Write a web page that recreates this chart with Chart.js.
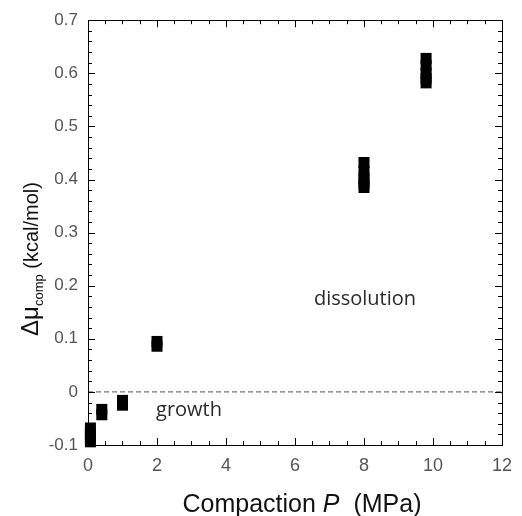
<!DOCTYPE html>
<html>
<head>
<meta charset="utf-8">
<script src="https://cdn.jsdelivr.net/npm/chart.js@4.4.1/dist/chart.umd.min.js"></script>
<style>
  body { margin: 0; background: #fff; }
  canvas { display: block; }
</style>
</head>
<body>
<canvas id="chart" width="522" height="516"></canvas>
<script>
// compaction pressure (MPa) and the measured Δμ values at each pressure
const pressures = [0.07, 0.4, 1, 2, 8, 9.8];
const muValues = [
  [-0.094, -0.086, -0.077, -0.068],
  [-0.043, -0.033],
  [-0.025, -0.016],
  [0.086, 0.095],
  [0.385, 0.393, 0.402, 0.415, 0.432],
  [0.582, 0.59, 0.6, 0.615, 0.628]
];
const xTicks = [0, 2, 4, 6, 8, 10, 12];
const yTicks = [-0.1, 0, 0.1, 0.2, 0.3, 0.4, 0.5, 0.6, 0.7];

const points = [];
pressures.forEach((p, i) => {
  muValues[i].forEach(v => points.push({ x: p, y: v }));
});

// frame + inward major/minor ticks on all four sides
const frameTicks = {
  id: 'frameTicks',
  afterDraw(chart) {
    const { ctx, chartArea: a, scales: { x, y } } = chart;
    ctx.save();
    ctx.strokeStyle = '#000';
    ctx.lineWidth = 1;
    ctx.beginPath();
    for (let i = 0; i <= 24; i++) {
      const px = Math.round(x.getPixelForValue(i * 0.5)) + 0.5;
      const len = i % 4 === 0 ? 7 : 4;
      ctx.moveTo(px, a.bottom); ctx.lineTo(px, a.bottom - len);
      ctx.moveTo(px, a.top); ctx.lineTo(px, a.top + len);
    }
    for (let i = 0; i <= 40; i++) {
      const py = Math.round(y.getPixelForValue(-0.1 + i * 0.02)) + 0.5;
      const len = i % 5 === 0 ? 7 : 4;
      ctx.moveTo(a.left, py); ctx.lineTo(a.left + len, py);
      ctx.moveTo(a.right, py); ctx.lineTo(a.right - len, py);
    }
    ctx.stroke();
    ctx.strokeRect(Math.round(a.left) + 0.5, Math.round(a.top) + 0.5,
      Math.round(a.right - a.left), Math.round(a.bottom - a.top));

    // annotations
    ctx.fillStyle = '#2a2a2a';
    ctx.font = '20px "Open Sans"';
    ctx.textAlign = 'center';
    ctx.textBaseline = 'alphabetic';
    ctx.fillText('dissolution', 365, 305);
    ctx.fillText('growth', 189, 416);

    // x title with italic P
    ctx.fillStyle = '#111';
    ctx.textAlign = 'left';
    const f = '25px "Liberation Sans"';
    const fi = 'italic 25px "Liberation Sans"';
    const parts = [['Compaction ', f], ['P', fi], ['  (MPa)', f]];
    let w = 0;
    parts.forEach(([t, ft]) => { ctx.font = ft; w += ctx.measureText(t).width; });
    let cx = 302 - w / 2;
    parts.forEach(([t, ft]) => { ctx.font = ft; ctx.fillText(t, cx, 512); cx += ctx.measureText(t).width; });

    // y title with subscript
    ctx.translate(38, 259);
    ctx.rotate(-Math.PI / 2);
    const yparts = [['Δμ', '24px "Liberation Sans"', 0], ['comp', '13px "Liberation Sans"', 5], [' (kcal/mol)', '20px "Liberation Sans"', 0]];
    w = 0;
    yparts.forEach(([t, ft]) => { ctx.font = ft; w += ctx.measureText(t).width; });
    cx = -w / 2;
    yparts.forEach(([t, ft, dy]) => { ctx.font = ft; ctx.fillText(t, cx, dy); cx += ctx.measureText(t).width; });
    ctx.restore();
  }
};

new Chart(document.getElementById('chart'), {
  type: 'scatter',
  data: {
    datasets: [{
      label: 'zero',
      type: 'line',
      data: [{ x: 0, y: 0 }, { x: 12, y: 0 }],
      borderColor: '#555',
      borderWidth: 1,
      borderDash: [5, 3],
      pointRadius: 0
    }, {
      label: 'Δμ',
      data: points,
      clip: false,
      pointStyle: 'rect',
      pointRadius: 7.8,
      backgroundColor: '#000',
      borderWidth: 0
    }]
  },
  options: {
    responsive: false,
    animation: false,
    layout: { padding: { top: 20, right: 11, left: 0, bottom: 0 } },
    plugins: { legend: { display: false }, tooltip: { enabled: false } },
    scales: {
      x: {
        type: 'linear',
        min: 0, max: 12,
        afterBuildTicks: s => { s.ticks = xTicks.map(v => ({ value: v })); },
        afterFit: s => { s.height = 71; },
        grid: { display: false, drawTicks: false },
        border: { display: false },
        ticks: { padding: 10, color: '#555', font: { family: 'Liberation Sans', size: 18 } }
      },
      y: {
        type: 'linear',
        min: -0.1, max: 0.7,
        afterBuildTicks: s => { s.ticks = yTicks.map(v => ({ value: v })); },
        afterFit: s => { s.width = 88; },
        grid: { display: false, drawTicks: false },
        border: { display: false },
        ticks: {
          padding: 10, color: '#555', font: { family: 'Liberation Sans', size: 17 },
          callback: v => String(+v.toFixed(1))
        }
      }
    }
  },
  plugins: [frameTicks]
});
</script>
</body>
</html>
